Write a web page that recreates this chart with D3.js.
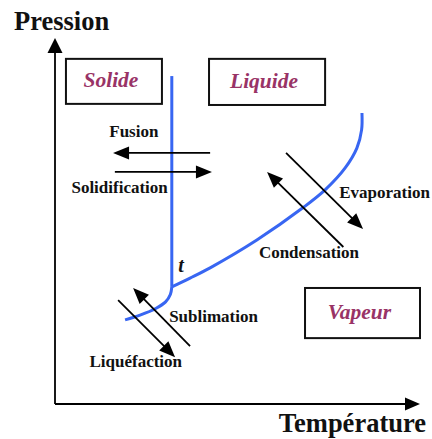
<!DOCTYPE html>
<html>
<head>
<meta charset="utf-8">
<script src="https://cdn.jsdelivr.net/npm/d3@7"></script>
<style>
	body { margin: 0; background: #fff; }
	svg { display: block; }
</style>
</head>
<body>
<svg id="chart" width="432" height="439"></svg>
<script>
// phase diagram, arbitrary units 0..100 on both axes
var fusionCurve = [[32.0, 89.6], [32.0, 32.0]];
var sublimationCurve = [[32.0, 32.0], [31.6, 29.9], [30.3, 27.9], [27.6, 26.1], [23.3, 24.3], [19.2, 23.0]];
var vaporCurve = [[32.0, 32.0], [37.0, 34.4], [42.5, 37.2], [55.3, 44.8], [67.9, 53.6], [74.0, 58.5], [79.5, 64.5], [82.7, 69.9], [84.0, 74.9], [84.1, 79.5]];

var phaseNames = ["Solide", "Liquide", "Vapeur"];
var phaseBoxes = [[3.0, 94.3, 29.3, 82.0], [42.2, 94.3, 74.0, 81.7], [68.5, 31.7, 100, 18.0]];

var transitionNames = ["Fusion", "Solidification", "Evaporation", "Condensation", "Sublimation", "Liquéfaction"];
// [x0, y0, x1, y1] -> head at x1,y1
var transitionArrows = [
	[42.5, 68.6, 15.9, 68.6],
	[16.4, 63.4, 43.0, 63.4],
	[63.3, 68.6, 84.4, 47.8],
	[79.0, 42.9, 58.1, 63.4],
	[37.0, 15.8, 21.4, 31.7],
	[17.3, 28.4, 32.9, 12.8]
];
var transitionLabels = [[21.6, 73.0], [17.7, 57.7], [102.7, 56.2], [83.3, 39.9], [55.6, 22.4], [34.8, 10.1]];
var transitionAnchors = ["middle", "middle", "end", "end", "end", "end"];

var triplePoint = [34.5, 36.1];

var xLabel = "Température";
var yLabel = "Pression";

var svg = d3.select("#chart");

var x = d3.scaleLinear().domain([0, 100]).range([55, 420]);
var y = d3.scaleLinear().domain([0, 100]).range([404, 38]);

var serif = "'Liberation Serif', 'Times New Roman', serif";
var blue = "#3866f2";
var plum = "#993366";

var arrowHead = function(g, x0, y0, x1, y1, len, half){
	var a = Math.atan2(y1 - y0, x1 - x0);
	var bx = x1 - len * Math.cos(a), by = y1 - len * Math.sin(a);
	var nx = -Math.sin(a) * half, ny = Math.cos(a) * half;
	g.append("path")
		.attr("d", "M" + x1 + "," + y1 + "L" + (bx + nx) + "," + (by + ny) + "L" + (bx - nx) + "," + (by - ny) + "Z")
		.attr("fill", "#000");
};

// axes
var axes = svg.append("g").attr("class", "axes");
axes.append("line")
	.attr("x1", x(0)).attr("y1", y(0))
	.attr("x2", x(0)).attr("y2", y(96))
	.attr("stroke", "#000").attr("stroke-width", 1.8);
arrowHead(axes, x(0), y(0), x(0), y(100), 15, 7.5);
axes.append("line")
	.attr("x1", x(0)).attr("y1", y(0))
	.attr("x2", x(96)).attr("y2", y(0))
	.attr("stroke", "#000").attr("stroke-width", 1.8);
arrowHead(axes, x(0), y(0), x(100), y(0), 15, 6.5);

svg.append("text")
	.attr("x", 14).attr("y", 30)
	.attr("font-family", serif).attr("font-weight", "bold").attr("font-size", 26.5)
	.attr("fill", "#111")
	.text(yLabel);
svg.append("text")
	.attr("x", 426).attr("y", 432)
	.attr("text-anchor", "end")
	.attr("font-family", serif).attr("font-weight", "bold").attr("font-size", 26.5)
	.attr("fill", "#111")
	.text(xLabel);

// phase boxes
var boxes = svg.append("g").attr("class", "phases");
phaseNames.forEach(function(name, i){
	var b = phaseBoxes[i];
	var bx = x(b[0]), by = y(b[1]), bw = x(b[2]) - x(b[0]), bh = y(b[3]) - y(b[1]);
	boxes.append("rect")
		.attr("x", bx).attr("y", by).attr("width", bw).attr("height", bh)
		.attr("fill", "none").attr("stroke", "#111").attr("stroke-width", 2);
	boxes.append("text")
		.attr("x", bx + bw / 2 - 3).attr("y", by + bh / 2 + 6)
		.attr("text-anchor", "middle")
		.attr("font-family", serif).attr("font-style", "italic").attr("font-weight", "bold")
		.attr("font-size", 21.5)
		.attr("fill", plum)
		.text(name);
});

// equilibrium curves
var line = d3.line()
	.x(function(d){ return x(d[0]); })
	.y(function(d){ return y(d[1]); })
	.curve(d3.curveCatmullRom);

var curves = svg.append("g").attr("class", "curves");
[fusionCurve, sublimationCurve, vaporCurve].forEach(function(c){
	curves.append("path")
		.datum(c)
		.attr("d", line)
		.attr("fill", "none")
		.attr("stroke", blue)
		.attr("stroke-width", 3)
		.attr("stroke-linecap", "butt");
});

svg.append("text")
	.attr("x", x(triplePoint[0])).attr("y", y(triplePoint[1]))
	.attr("text-anchor", "middle")
	.attr("font-family", serif).attr("font-style", "italic").attr("font-weight", "bold")
	.attr("font-size", 20)
	.attr("fill", "#111")
	.text("t");

// transition arrows
var arrows = svg.append("g").attr("class", "arrows");
transitionArrows.forEach(function(a, i){
	var x0 = x(a[0]), y0 = y(a[1]), x1 = x(a[2]), y1 = y(a[3]);
	var ang = Math.atan2(y1 - y0, x1 - x0);
	arrows.append("line")
		.attr("x1", x0).attr("y1", y0)
		.attr("x2", x1 - 12 * Math.cos(ang)).attr("y2", y1 - 12 * Math.sin(ang))
		.attr("stroke", "#000").attr("stroke-width", 1.8);
	arrowHead(arrows, x0, y0, x1, y1, 16, 6.5);
	arrows.append("text")
		.attr("x", x(transitionLabels[i][0])).attr("y", y(transitionLabels[i][1]))
		.attr("text-anchor", transitionAnchors[i])
		.attr("font-family", serif).attr("font-weight", "bold")
		.attr("font-size", 17)
		.attr("fill", "#111")
		.text(transitionNames[i]);
});
</script>
</body>
</html>
